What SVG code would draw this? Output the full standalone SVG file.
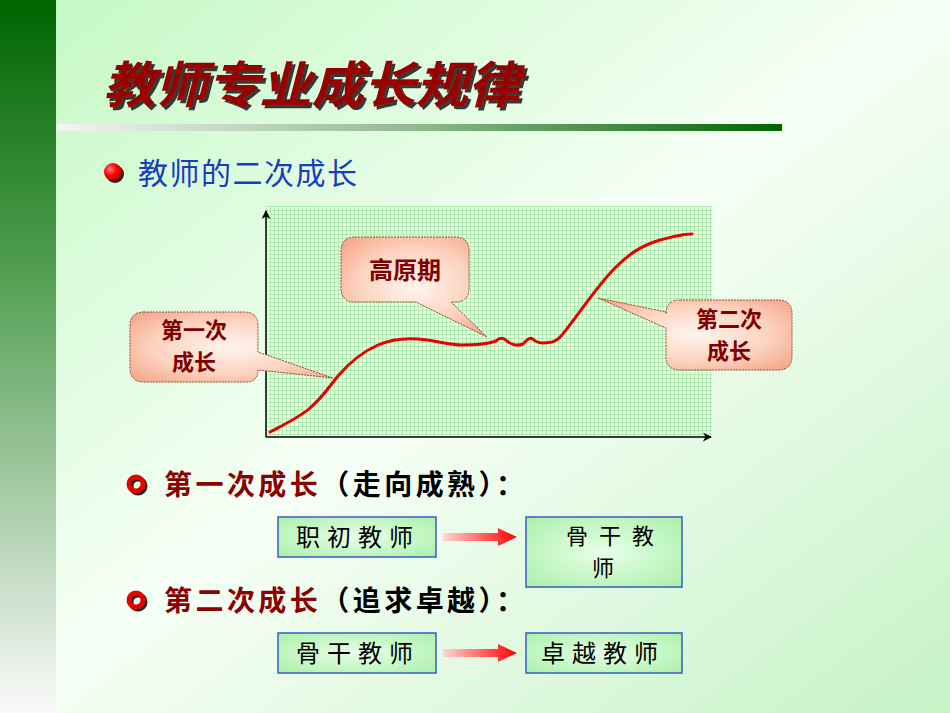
<svg xmlns="http://www.w3.org/2000/svg" width="950" height="713" viewBox="0 0 950 713">
<defs>
<linearGradient id="bg" x1="0" y1="0" x2="1" y2="1">
<stop offset="0" stop-color="#c2f8c2"/>
<stop offset="0.5" stop-color="#f6fff6"/>
<stop offset="1" stop-color="#c6f2c6"/>
</linearGradient>
<linearGradient id="side" x1="0" y1="0" x2="0" y2="1">
<stop offset="0" stop-color="#006400"/>
<stop offset="0.35" stop-color="#4a9a4a"/>
<stop offset="0.7" stop-color="#a8cca8"/>
<stop offset="1" stop-color="#fafafa"/>
</linearGradient>
<linearGradient id="bar" x1="0" y1="0" x2="1" y2="0">
<stop offset="0" stop-color="#f4f4f4"/>
<stop offset="0.5" stop-color="#90b890"/>
<stop offset="1" stop-color="#006400"/>
</linearGradient>
<pattern id="grid" x="266" y="206" width="4" height="4" patternUnits="userSpaceOnUse">
<rect width="4" height="4" fill="#e8fce8"/>
<path d="M0,0.5H4M0.5,0V4" stroke="#b0eab0" stroke-width="1"/>
</pattern>
<radialGradient id="call" cx="0.5" cy="0.5" r="0.65">
<stop offset="0" stop-color="#fff4ee"/>
<stop offset="0.6" stop-color="#fcd2be"/>
<stop offset="1" stop-color="#f5a88c"/>
</radialGradient>
<radialGradient id="boxg" cx="0.5" cy="0.5" r="0.7">
<stop offset="0" stop-color="#e8ffe8"/>
<stop offset="1" stop-color="#aaf0aa"/>
</radialGradient>
<linearGradient id="arr" x1="0" y1="0" x2="1" y2="0">
<stop offset="0" stop-color="#ffd6d6"/>
<stop offset="1" stop-color="#ff0000"/>
</linearGradient>
<radialGradient id="ball" cx="0.35" cy="0.35" r="0.7">
<stop offset="0" stop-color="#ff8080"/>
<stop offset="0.5" stop-color="#ff0000"/>
<stop offset="1" stop-color="#b00000"/>
</radialGradient>
<filter id="shadow" x="-5%" y="-20%" width="115%" height="150%">
<feDropShadow dx="3" dy="3" stdDeviation="0.6" flood-color="#222" flood-opacity="0.9"/>
</filter>
<marker id="ah" viewBox="0 0 10 10" refX="9" refY="5" markerWidth="9" markerHeight="9" markerUnits="userSpaceOnUse" orient="auto">
<path d="M0,0 L10,5 L0,10 L3,5 Z" fill="#000"/>
</marker>
</defs>
<style>
.cap{font-family:"Noto Sans CJK SC",sans-serif;font-weight:700;fill:#800000;font-size:22px;text-anchor:middle}
.box{fill:url(#boxg);stroke:#3a5cc0;stroke-width:1.5}
.bt{font-family:"Noto Sans CJK SC",sans-serif;font-size:24px;fill:#000;letter-spacing:7px}
.callout{fill:url(#call);stroke:#9a4a30;stroke-width:1;stroke-dasharray:2 1}
.sub{font-family:"Noto Sans CJK SC",sans-serif;font-weight:700;font-size:28px}
</style>
<rect width="950" height="713" fill="url(#bg)"/>
<rect x="0" y="0" width="56" height="713" fill="url(#side)"/>
<g id="title">
<text x="103" y="103" font-family="Noto Sans CJK SC,sans-serif" font-size="50" font-weight="700" font-style="italic" fill="#990000" filter="url(#shadow)" textLength="417" lengthAdjust="spacingAndGlyphs">教师专业成长规律</text>
</g>
<rect x="57" y="124" width="725" height="7" fill="url(#bar)"/>
<g id="heading">
<circle cx="115" cy="174" r="9" fill="#222"/>
<circle cx="113" cy="172" r="9" fill="url(#ball)"/>
<text x="138" y="184" font-family="Noto Sans CJK SC,sans-serif" font-size="30" fill="#1a3cc0" textLength="219">教师的二次成长</text>
</g>
<g id="chart">
<rect x="266" y="206" width="446" height="231" fill="url(#grid)"/>
<line x1="266" y1="437" x2="266" y2="211" stroke="#000" stroke-width="1.5" marker-end="url(#ah)"/>
<line x1="266" y1="437" x2="711" y2="437" stroke="#000" stroke-width="1.5" marker-end="url(#ah)"/>
<path d="M270,432 C285,424 300,417 310,408 C322,398 328,388 338,376 C350,362 362,352 378,345 C392,339 405,338 418,339 C435,340 448,345 462,345 C478,345 488,344 496,341 C499,338 503,337 507,341 C512,345 518,346 523,344 C527,340 530,336 534,340 C538,344 545,343 552,342 C560,340 566,330 575,318 C588,301 600,283 615,268 C628,255 640,246 660,240 C675,236 685,234 692,234" fill="none" stroke="#e60000" stroke-width="3" stroke-linecap="round"/>
</g>
<g id="callout1">
<path class="callout" d="M144,312 H244 Q258,312 258,326 V352 L333,378 L258,370 V370 Q258,382 246,382 H144 Q130,382 130,368 V326 Q130,312 144,312 Z"/>
<text class="cap" x="194" y="338">第一次<tspan x="194" dy="32">成长</tspan></text>
</g>
<g id="callout2">
<path class="callout" d="M355,237 H455 Q469,237 469,251 V288 Q469,302 455,302 H451 L487,337 L416,302 H355 Q341,302 341,288 V251 Q341,237 355,237 Z"/>
<text class="cap" x="405" y="279" style="font-size:24px">高原期</text>
</g>
<g id="callout3">
<path class="callout" d="M680,300 H778 Q792,300 792,314 V356 Q792,370 778,370 H680 Q666,370 666,356 V328 L598,298 L666,312 V314 Q666,300 680,300 Z"/>
<text class="cap" x="729" y="327">第二次<tspan x="729" dy="32">成长</tspan></text>
</g>
<g id="bullet1">
<circle cx="138" cy="486" r="7" fill="none" stroke="#222" stroke-width="5"/>
<circle cx="136" cy="484" r="7" fill="none" stroke="#e80000" stroke-width="5"/>
<text class="sub" x="164" y="495" textLength="360"><tspan fill="#8b0000">第一次成长</tspan><tspan fill="#000">（走向成熟）：</tspan></text>
</g>
<g id="bullet2">
<circle cx="138" cy="602" r="7" fill="none" stroke="#222" stroke-width="5"/>
<circle cx="136" cy="600" r="7" fill="none" stroke="#e80000" stroke-width="5"/>
<text class="sub" x="164" y="611" textLength="360"><tspan fill="#8b0000">第二次成长</tspan><tspan fill="#000">（追求卓越）：</tspan></text>
</g>
<g id="box-zhichu">
<rect class="box" x="278" y="517" width="158" height="40"/>
<text class="bt" x="296" y="546">职初教师</text>
</g>
<g id="box-gugan1">
<rect class="box" x="526" y="517" width="156" height="70"/>
<text class="bt" x="566" y="544" style="font-size:22px;letter-spacing:11px">骨干教<tspan x="592" dy="32">师</tspan></text>
</g>
<g id="box-gugan2">
<rect class="box" x="278" y="633" width="158" height="40"/>
<text class="bt" x="296" y="662">骨干教师</text>
</g>
<g id="box-zhuoyue">
<rect class="box" x="526" y="633" width="156" height="40"/>
<text class="bt" x="541" y="662">卓越教师</text>
</g>
<g id="connectors">
<path d="M443,533 H498 V528 L517,537 L498,546 V541 H443 Z" fill="url(#arr)"/>
<path d="M443,649 H498 V644 L517,653 L498,662 V657 H443 Z" fill="url(#arr)"/>
</g>
</svg>
